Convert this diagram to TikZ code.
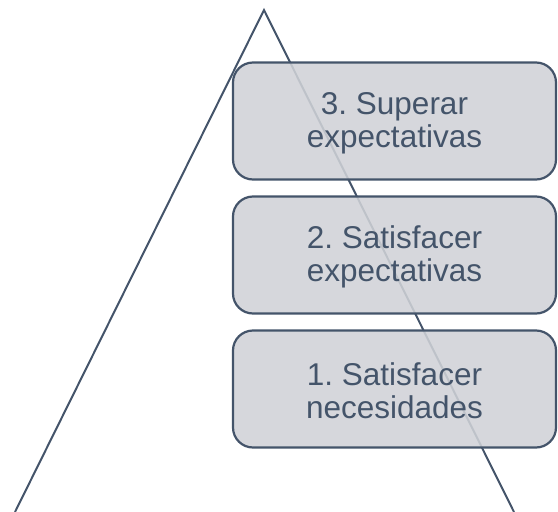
\documentclass[tikz,border=0pt]{standalone}
\usepackage{fontspec}
\setmainfont{Liberation Sans}
\frenchspacing
\definecolor{slate}{HTML}{44546A}
\definecolor{boxfill}{HTML}{D0D2D7}
\begin{document}
\begin{tikzpicture}[x=1pt,y=-1pt,
  level/.style={draw=slate, line width=2.2pt, fill=boxfill, fill opacity=0.88, text opacity=1,
    rounded corners=20pt, minimum width=323pt, minimum height=117pt, inner sep=0pt},
  label text/.style={text=slate, align=center, font=\fontsize{31.5pt}{33pt}\selectfont\frenchspacing},
  side/.style={draw=slate, line width=2pt}]
\useasboundingbox (0,0) rectangle (558,512);
\clip (0,0) rectangle (558,512);
\coordinate (apex) at (264,10);
\coordinate (bl) at (15,512);
\coordinate (br) at (514,512);
\draw[side] (bl) -- (apex) -- (br);
\node[level] (n3) at (394.5,121) {};
\node[level] (n2) at (394.5,255) {};
\node[level] (n1) at (394.5,389) {};
\node[label text] (t3) at ([yshift=-2pt]n3.center) {3. Superar\\expectativas};
\node[label text] (t2) at ([yshift=-2pt]n2.center) {2. Satisfacer\\expectativas};
\node[label text] (t1) at ([yshift=-2pt]n1.center) {1. Satisfacer\\necesidades};
\end{tikzpicture}
\end{document}
